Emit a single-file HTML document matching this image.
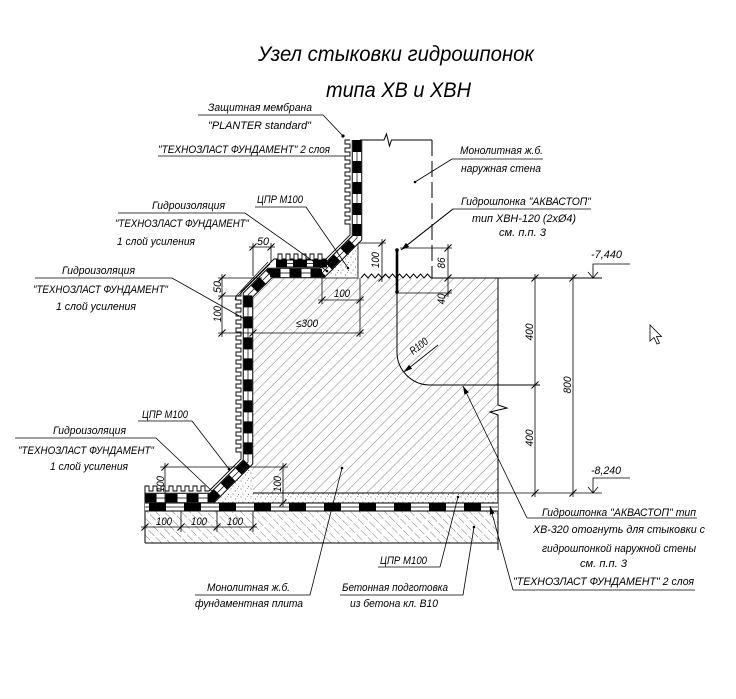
<!DOCTYPE html>
<html><head><meta charset="utf-8"><style>
html,body{margin:0;padding:0;background:#fff;}
svg{display:block}
text{font-family:"Liberation Sans","DejaVu Sans",sans-serif;font-style:italic;fill:#000;font-size:11px}
</style></head><body>
<svg width="736" height="699" viewBox="0 0 736 699" xmlns="http://www.w3.org/2000/svg" xmlns:xlink="http://www.w3.org/1999/xlink">
<defs>
<pattern id="h1" patternUnits="userSpaceOnUse" width="7.5" height="7.5" patternTransform="rotate(45)"><line x1="0" y1="-1" x2="0" y2="9" stroke="#3a3a3a" stroke-width="0.65"/></pattern>
<pattern id="h2" patternUnits="userSpaceOnUse" width="6" height="10" patternTransform="rotate(-45)"><line x1="0" y1="0" x2="0" y2="8" stroke="#3a3a3a" stroke-width="0.65"/></pattern>
<pattern id="st" patternUnits="userSpaceOnUse" width="10" height="8"><circle cx="1" cy="1" r="0.5" fill="#444"/><circle cx="5.5" cy="3" r="0.5" fill="#444"/><circle cx="8.5" cy="6.5" r="0.5" fill="#444"/><circle cx="3" cy="6" r="0.5" fill="#444"/><circle cx="7.5" cy="0.5" r="0.4" fill="#444"/></pattern>
<marker id="ar" viewBox="0 0 10 6" refX="10" refY="3" markerWidth="9" markerHeight="5" orient="auto" markerUnits="userSpaceOnUse"><path d="M0,0 L10,3 L0,6 z" fill="#000"/></marker>
<path id="tk" d="M-3.5,3.5 L3.5,-3.5" stroke="#000" stroke-width="1.1"/>
</defs>

<!-- Title -->
<text x="258" y="61" style="font-size:21px" textLength="276" lengthAdjust="spacingAndGlyphs">Узел стыковки гидрошпонок</text>
<text x="326" y="97" style="font-size:21px" textLength="145" lengthAdjust="spacingAndGlyphs">типа ХВ и ХВН</text>

<!-- Slab hatch -->
<path d="M253,296 L271,278 H498 V493 H253 Z" fill="url(#h1)"/>
<!-- stipple regions -->
<polygon points="322,278 358,242 358,278" fill="url(#st)" stroke="#000" stroke-width="0.8"/>
<polygon points="253,464 253,493 498,493 498,503 214,503" fill="url(#st)"/>
<!-- prep -->
<rect x="145" y="511" width="353" height="32" fill="url(#h2)"/>

<g stroke="#000" fill="none" stroke-width="1">
<line x1="253" y1="493" x2="498" y2="493"/>
<line x1="145" y1="543" x2="498" y2="543"/>
<line x1="145" y1="487" x2="145" y2="543"/>
<path d="M498,278 V405 L507,408 L490,412 L498,415 V550"/>
<!-- wall -->
<path d="M360,140 H384 L386.5,134 L389.5,146 L391.5,140 H432"/>
<line x1="432" y1="140" x2="432" y2="278" stroke-dasharray="16 5"/>
<path d="M361,278 l3.5,-4 l3.5,4 l3.5,-4 l3.5,4 l3.5,-4 l3.5,4 l3.5,-4 l3.5,4 l3.5,-4 l3.5,4 l3.5,-4 l3.5,4 l3.5,-4 l3.5,4 l3.5,-4 l3.5,4 l3.5,-4 l3.5,4 l3.5,-4 l3.5,4 H602"/>
<!-- R curve -->
<path d="M397,292 V352 A33,33 0 0 0 430,385 H540"/>
</g>
<!-- waterstop -->
<line x1="397" y1="250" x2="397" y2="292" stroke="#000" stroke-width="2.6"/>
<circle cx="397" cy="250" r="1.8"/><circle cx="397" cy="292" r="1.8"/>

<!-- Membrane bands -->
<g fill="none" stroke-linejoin="miter">
<path d="M357,140 V238 L322,273 H270 L248,295 V462 L212,498 H145" stroke="#000" stroke-width="10.5"/>
<path d="M357,140 V238 L322,273 H270 L248,295 V462 L212,498 H145" stroke="#fff" stroke-width="8.5"/>
<path d="M357,140 V238 L322,273 H270 L248,295 V462 L212,498 H145" stroke="#000" stroke-width="0.7"/>
<path d="M357,140 V238 L322,273 H270 L248,295 V462 L212,498 H145" stroke="#000" stroke-width="8.5" stroke-dasharray="12 9"/>

<path d="M327,263.5 H276" stroke="#000" stroke-width="8"/>
<path d="M327,263.5 H276" stroke="#fff" stroke-width="6"/>
<path d="M327,263.5 H276" stroke="#000" stroke-width="0.7"/>
<path d="M327,263.5 H276" stroke="#000" stroke-width="6" stroke-dasharray="14 6"/>

<path d="M145,507 H498" stroke="#000" stroke-width="9"/>
<path d="M145,507 H498" stroke="#fff" stroke-width="7"/>
<path d="M145,507 H498" stroke="#000" stroke-width="0.7"/>
<path d="M145,507 H498" stroke="#000" stroke-width="7" stroke-dasharray="17 18" stroke-dashoffset="-4"/>

<!-- castellated protective membrane -->
<path stroke="#000" stroke-width="0.9" d="M350,140 h-5v4h5v4 h-5v4h5v4 h-5v4h5v4 h-5v4h5v4 h-5v4h5v4 h-5v4h5v4 h-5v4h5v4 h-5v4h5v4 h-5v4h5v4 h-5v4h5v4 h-5v4h5v4 V235 L326,259 h-4v-5h-4v5 h-4v-5h-4v5 h-4v-5h-4v5 h-4v-5h-4v5 h-4v-5h-4v5 h-4v-5h-4v5 H274 L241,292 V296 h-5v4h5v4 h-5v4h5v4 h-5v4h5v4 h-5v4h5v4 h-5v4h5v4 h-5v4h5v4 h-5v4h5v4 h-5v4h5v4 h-5v4h5v4 h-5v4h5v4 h-5v4h5v4 h-5v4h5v4 h-5v4h5v4 h-5v4h5v4 h-5v4h5v4 h-5v4h5v4 h-5v4h5v4 h-5v4h5v4 h-5v4h5v4 h-5v4h5v4 V459 L209,491 h-4v-5h-4v5 h-4v-5h-4v5 h-4v-5h-4v5 h-4v-5h-4v5 h-4v-5h-4v5 h-4v-5h-4v5 h-4v-5h-4v5 h-4v-5h-4v5 H145"/>
<path stroke="#000" stroke-width="0.7" d="M238,296 L270,264 M235,300 L236,296 L268,262 M352,236 L329,259"/>
</g>

<!-- Dimensions -->
<g stroke="#000" stroke-width="0.8" fill="none">
<!-- top 50 -->
<line x1="253" y1="243" x2="253" y2="276"/><line x1="271" y1="243" x2="271" y2="262"/><line x1="249" y1="247" x2="275" y2="247"/>
<!-- left verticals -->
<line x1="218" y1="278" x2="262" y2="278"/><line x1="218" y1="296" x2="236" y2="296"/><line x1="218" y1="333" x2="364" y2="333"/><line x1="222" y1="274" x2="222" y2="337"/>
<!-- 100 horiz -->
<line x1="322" y1="278" x2="322" y2="304"/><line x1="360" y1="278" x2="360" y2="337"/><line x1="318" y1="300" x2="364" y2="300"/>
<!-- 100 top right -->
<line x1="358" y1="243" x2="386" y2="243"/><line x1="382" y1="239" x2="382" y2="282"/>
<!-- 86/40 -->
<line x1="400" y1="248" x2="452" y2="248"/><line x1="397" y1="293" x2="452" y2="293"/><line x1="448" y1="244" x2="448" y2="297"/>
<!-- right -->
<line x1="498" y1="493" x2="602" y2="493"/>
<line x1="535" y1="274" x2="535" y2="497"/><line x1="573" y1="274" x2="573" y2="497"/>
<!-- levels -->
<path d="M630,264 H593 V278 M588,272 L593,278 L598,272"/>
<path d="M630,478 H593 V493 M588,487 L593,493 L598,487"/>
<!-- bottom -->
<line x1="141" y1="527" x2="257" y2="527"/>
<line x1="181" y1="511" x2="181" y2="532"/><line x1="217" y1="511" x2="217" y2="532"/><line x1="253" y1="511" x2="253" y2="532"/><line x1="145" y1="543" x2="145" y2="532"/>
<line x1="160" y1="467" x2="288" y2="467"/>
<line x1="165" y1="463" x2="165" y2="507"/><line x1="283" y1="463" x2="283" y2="507"/>
</g>
<g>
<use href="#tk" x="253" y="247"/><use href="#tk" x="271" y="247"/>
<use href="#tk" x="222" y="278"/><use href="#tk" x="222" y="296"/><use href="#tk" x="222" y="333"/>
<use href="#tk" x="322" y="300"/><use href="#tk" x="360" y="300"/>
<use href="#tk" x="253" y="333"/><use href="#tk" x="360" y="333"/>
<use href="#tk" x="382" y="243"/><use href="#tk" x="382" y="278"/>
<use href="#tk" x="448" y="248"/><use href="#tk" x="448" y="278"/><use href="#tk" x="448" y="293"/>
<use href="#tk" x="535" y="278"/><use href="#tk" x="535" y="385"/><use href="#tk" x="535" y="493"/>
<use href="#tk" x="573" y="278"/><use href="#tk" x="573" y="493"/>
<use href="#tk" x="145" y="527"/><use href="#tk" x="181" y="527"/><use href="#tk" x="217" y="527"/><use href="#tk" x="253" y="527"/>
<use href="#tk" x="165" y="467"/><use href="#tk" x="165" y="503"/><use href="#tk" x="283" y="467"/><use href="#tk" x="283" y="503"/>
</g>

<!-- Dimension texts -->
<text x="257" y="245" textLength="12" lengthAdjust="spacingAndGlyphs">50</text>
<text transform="translate(221,287) rotate(-90)" text-anchor="middle" textLength="12" lengthAdjust="spacingAndGlyphs">50</text>
<text transform="translate(221,314) rotate(-90)" text-anchor="middle" textLength="16" lengthAdjust="spacingAndGlyphs">100</text>
<text x="334" y="297" textLength="16" lengthAdjust="spacingAndGlyphs">100</text>
<text x="296" y="327" textLength="22" lengthAdjust="spacingAndGlyphs">≤300</text>
<text transform="translate(379,260) rotate(-90)" text-anchor="middle" textLength="16" lengthAdjust="spacingAndGlyphs">100</text>
<text transform="translate(445,263) rotate(-90)" text-anchor="middle" textLength="11" lengthAdjust="spacingAndGlyphs">86</text>
<text transform="translate(445,299) rotate(-90)" text-anchor="middle" textLength="11" lengthAdjust="spacingAndGlyphs">40</text>
<text transform="translate(533,332) rotate(-90)" text-anchor="middle" textLength="17" lengthAdjust="spacingAndGlyphs">400</text>
<text transform="translate(571,385) rotate(-90)" text-anchor="middle" textLength="17" lengthAdjust="spacingAndGlyphs">800</text>
<text transform="translate(533,438) rotate(-90)" text-anchor="middle" textLength="17" lengthAdjust="spacingAndGlyphs">400</text>
<text transform="translate(164,484) rotate(-90)" text-anchor="middle" textLength="16" lengthAdjust="spacingAndGlyphs">100</text>
<text transform="translate(281,484) rotate(-90)" text-anchor="middle" textLength="16" lengthAdjust="spacingAndGlyphs">100</text>
<text x="156" y="525" textLength="16" lengthAdjust="spacingAndGlyphs">100</text>
<text x="191" y="525" textLength="16" lengthAdjust="spacingAndGlyphs">100</text>
<text x="227" y="525" textLength="16" lengthAdjust="spacingAndGlyphs">100</text>
<text transform="translate(421,349) rotate(-38)" text-anchor="middle" textLength="20" lengthAdjust="spacingAndGlyphs">R100</text>
<line x1="438" y1="345" x2="404" y2="372" stroke="#000" stroke-width="0.8" marker-end="url(#ar)"/>
<text x="591" y="258" textLength="31" lengthAdjust="spacingAndGlyphs">-7,440</text>
<text x="591" y="474" textLength="30" lengthAdjust="spacingAndGlyphs">-8,240</text>

<!-- Leaders -->
<g stroke="#000" stroke-width="0.8" fill="none">
<path d="M198,115 H323 L343,136"/>
<path d="M158,156 H349"/>
<path d="M255,207 H306 L348,268"/>
<path d="M118,213 H245 L327,271"/>
<path d="M35,278 H172 L250,322"/>
<path d="M452,159 H543 M452,159 L415,182"/>
<path d="M453,209 H591 M453,209 L402,249" />
<path d="M138,421 H192 L229,469"/>
<path d="M15,438 H156 L213,492"/>
<path d="M378,567 H440 L458,497"/>
<path d="M195,595 H310 L342,468"/>
<path d="M340,595 H463 L474,527"/>
<path d="M527,518 H697"/>
<path d="M513,590 H695"/>
</g>
<line x1="453" y1="209" x2="401" y2="250" stroke="#000" stroke-width="0.8" marker-end="url(#ar)"/>
<line x1="527" y1="518" x2="463" y2="386" stroke="#000" stroke-width="0.8" marker-end="url(#ar)"/>
<line x1="513" y1="590" x2="490" y2="506" stroke="#000" stroke-width="0.8" marker-end="url(#ar)"/>
<g fill="#000">
<circle cx="343" cy="136" r="1.6"/><circle cx="348" cy="268" r="1.3"/><circle cx="327" cy="271" r="1.3"/>
<circle cx="250" cy="322" r="1.3"/><circle cx="415" cy="182" r="1.3"/><circle cx="229" cy="469" r="1.3"/>
<circle cx="213" cy="492" r="1.3"/><circle cx="458" cy="497" r="1.3"/><circle cx="342" cy="468" r="1.3"/><circle cx="474" cy="527" r="1.3"/>
</g>

<!-- Labels -->
<text x="208" y="111" textLength="104" lengthAdjust="spacingAndGlyphs">Защитная мембрана</text>
<text x="208" y="129" textLength="103" lengthAdjust="spacingAndGlyphs">"PLANTER standard"</text>
<text x="158" y="153" textLength="172" lengthAdjust="spacingAndGlyphs">"ТЕХНОЗЛАСТ ФУНДАМЕНТ" 2 слоя</text>
<text x="257" y="203" textLength="46" lengthAdjust="spacingAndGlyphs">ЦПР М100</text>
<text x="152" y="209" textLength="73" lengthAdjust="spacingAndGlyphs">Гидроизоляция</text>
<text x="115" y="227" textLength="134" lengthAdjust="spacingAndGlyphs">"ТЕХНОЗЛАСТ ФУНДАМЕНТ"</text>
<text x="117" y="245" textLength="78" lengthAdjust="spacingAndGlyphs">1 слой усиления</text>
<text x="62" y="274" textLength="73" lengthAdjust="spacingAndGlyphs">Гидроизоляция</text>
<text x="33" y="293" textLength="135" lengthAdjust="spacingAndGlyphs">"ТЕХНОЗЛАСТ ФУНДАМЕНТ"</text>
<text x="56" y="310" textLength="80" lengthAdjust="spacingAndGlyphs">1 слой усиления</text>
<text x="460" y="154" textLength="83" lengthAdjust="spacingAndGlyphs">Монолитная ж.б.</text>
<text x="461" y="172" textLength="80" lengthAdjust="spacingAndGlyphs">наружная стена</text>
<text x="461" y="205" textLength="130" lengthAdjust="spacingAndGlyphs">Гидрошпонка "АКВАСТОП"</text>
<text x="472" y="222" textLength="104" lengthAdjust="spacingAndGlyphs">тип ХВН-120 (2хØ4)</text>
<text x="499" y="236" textLength="47" lengthAdjust="spacingAndGlyphs">см. п.п. 3</text>
<text x="142" y="418" textLength="46" lengthAdjust="spacingAndGlyphs">ЦПР М100</text>
<text x="53" y="434" textLength="73" lengthAdjust="spacingAndGlyphs">Гидроизоляция</text>
<text x="18" y="454" textLength="136" lengthAdjust="spacingAndGlyphs">"ТЕХНОЗЛАСТ ФУНДАМЕНТ"</text>
<text x="50" y="470" textLength="78" lengthAdjust="spacingAndGlyphs">1 слой усиления</text>
<text x="542" y="516" textLength="154" lengthAdjust="spacingAndGlyphs">Гидрошпонка "АКВАСТОП" тип</text>
<text x="533" y="533" textLength="172" lengthAdjust="spacingAndGlyphs">ХВ-320 отогнуть для стыковки с</text>
<text x="542" y="552" textLength="154" lengthAdjust="spacingAndGlyphs">гидрошпонкой наружной стены</text>
<text x="580" y="567" textLength="47" lengthAdjust="spacingAndGlyphs">см. п.п. 3</text>
<text x="380" y="564" textLength="47" lengthAdjust="spacingAndGlyphs">ЦПР М100</text>
<text x="513" y="585" textLength="181" lengthAdjust="spacingAndGlyphs">"ТЕХНОЗЛАСТ ФУНДАМЕНТ" 2 слоя</text>
<text x="207" y="591" textLength="83" lengthAdjust="spacingAndGlyphs">Монолитная ж.б.</text>
<text x="195" y="607" textLength="108" lengthAdjust="spacingAndGlyphs">фундаментная плита</text>
<text x="342" y="591" textLength="106" lengthAdjust="spacingAndGlyphs">Бетонная подготовка</text>
<text x="350" y="607" textLength="88" lengthAdjust="spacingAndGlyphs">из бетона кл. В10</text>

<!-- cursor -->
<path d="M650,325 L650,341 L654,337.5 L657,344 L659.5,343 L656.5,336.5 L661.5,336.5 Z" fill="#fff" stroke="#000" stroke-width="0.8"/>
</svg>
</body></html>
